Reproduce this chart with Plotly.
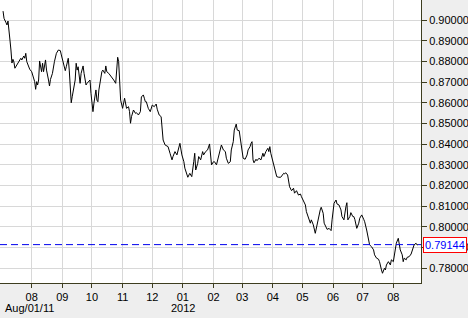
import plotly.graph_objects as go

dates = [
"2011-07-03","2011-07-04","2011-07-06","2011-07-07","2011-07-08","2011-07-09","2011-07-10","2011-07-11","2011-07-12","2011-07-13",
"2011-07-14","2011-07-15","2011-07-17","2011-07-19","2011-07-21","2011-07-22","2011-07-24","2011-07-25","2011-07-26","2011-07-27",
"2011-07-29","2011-07-30","2011-08-01","2011-08-03","2011-08-04","2011-08-05","2011-08-06","2011-08-07","2011-08-08","2011-08-09",
"2011-08-10","2011-08-11","2011-08-12","2011-08-13","2011-08-15","2011-08-16","2011-08-18","2011-08-19","2011-08-20","2011-08-22",
"2011-08-24","2011-08-26","2011-08-28","2011-08-30","2011-08-31","2011-09-02","2011-09-04","2011-09-05","2011-09-07","2011-09-08",
"2011-09-09","2011-09-10","2011-09-11","2011-09-13","2011-09-14","2011-09-15","2011-09-16","2011-09-17","2011-09-19","2011-09-20",
"2011-09-22","2011-09-23","2011-09-25","2011-09-26","2011-09-28","2011-09-29","2011-09-30","2011-10-01","2011-10-02","2011-10-03",
"2011-10-04","2011-10-05","2011-10-06","2011-10-07","2011-10-08","2011-10-10","2011-10-11","2011-10-12","2011-10-14","2011-10-15",
"2011-10-16","2011-10-18","2011-10-21","2011-10-23","2011-10-25","2011-10-26","2011-10-27","2011-10-28","2011-10-29","2011-10-30",
"2011-11-01","2011-11-02","2011-11-03","2011-11-05","2011-11-07","2011-11-08","2011-11-09","2011-11-10","2011-11-12","2011-11-14",
"2011-11-15","2011-11-17","2011-11-19","2011-11-20","2011-11-22","2011-11-23","2011-11-24","2011-11-25","2011-11-27","2011-11-29",
"2011-11-30","2011-12-01","2011-12-03","2011-12-05","2011-12-06","2011-12-08","2011-12-10","2011-12-11","2011-12-12","2011-12-14",
"2011-12-16","2011-12-17","2011-12-19","2011-12-21","2011-12-22","2011-12-24","2011-12-26","2011-12-27","2011-12-29","2011-12-31",
"2012-01-02","2012-01-03","2012-01-05","2012-01-06","2012-01-08","2012-01-10","2012-01-12","2012-01-13","2012-01-14","2012-01-16",
"2012-01-17","2012-01-19","2012-01-21","2012-01-22","2012-01-24","2012-01-26","2012-01-28","2012-01-29","2012-01-30","2012-02-01",
"2012-02-02","2012-02-04","2012-02-06","2012-02-08","2012-02-09","2012-02-11","2012-02-13","2012-02-14","2012-02-16","2012-02-18",
"2012-02-19","2012-02-21","2012-02-22","2012-02-24","2012-02-25","2012-02-27","2012-02-28","2012-03-01","2012-03-02","2012-03-04",
"2012-03-06","2012-03-07","2012-03-09","2012-03-10","2012-03-11","2012-03-12","2012-03-13","2012-03-15","2012-03-16","2012-03-18",
"2012-03-20","2012-03-22","2012-03-23","2012-03-25","2012-03-27","2012-03-28","2012-03-29","2012-03-30","2012-04-01","2012-04-02",
"2012-04-04","2012-04-05","2012-04-07","2012-04-09","2012-04-10","2012-04-12","2012-04-13","2012-04-14","2012-04-16","2012-04-17",
"2012-04-18","2012-04-20","2012-04-22","2012-04-23","2012-04-25","2012-04-27","2012-04-29","2012-04-30","2012-05-02","2012-05-04",
"2012-05-05","2012-05-07","2012-05-09","2012-05-10","2012-05-12","2012-05-14","2012-05-15","2012-05-17","2012-05-19","2012-05-20",
"2012-05-22","2012-05-23","2012-05-25","2012-05-26","2012-05-28","2012-05-30","2012-05-31","2012-06-02","2012-06-04","2012-06-05",
"2012-06-07","2012-06-09","2012-06-10","2012-06-12","2012-06-14","2012-06-15","2012-06-16","2012-06-18","2012-06-19","2012-06-21",
"2012-06-22","2012-06-23","2012-06-25","2012-06-27","2012-06-28","2012-06-30","2012-07-02","2012-07-03","2012-07-05","2012-07-07",
"2012-07-08","2012-07-10","2012-07-12","2012-07-13","2012-07-15","2012-07-17","2012-07-18","2012-07-20","2012-07-21","2012-07-23",
"2012-07-24","2012-07-25","2012-07-27","2012-07-29","2012-07-30","2012-08-01","2012-08-02","2012-08-03","2012-08-04","2012-08-06",
"2012-08-07","2012-08-08","2012-08-10","2012-08-11","2012-08-12","2012-08-14","2012-08-15","2012-08-17","2012-08-19","2012-08-21",
"2012-08-22","2012-08-24","2012-08-25","2012-08-26",
]

values = [
0.9043,0.9008,0.8987,0.8976,0.8995,0.8961,0.8903,0.8855,0.8792,0.8810,
0.8797,0.8767,0.8783,0.8799,0.8815,0.8807,0.8826,0.8815,0.8839,0.8799,
0.8767,0.8762,0.8750,0.8718,0.8702,0.8665,0.8702,0.8686,0.8710,0.8802,
0.8767,0.8750,0.8791,0.8750,0.8807,0.8758,0.8710,0.8681,0.8713,0.8742,
0.8799,0.8839,0.8855,0.8852,0.8831,0.8791,0.8755,0.8774,0.8815,0.8758,
0.8678,0.8600,0.8629,0.8694,0.8710,0.8791,0.8758,0.8774,0.8694,0.8742,
0.8778,0.8742,0.8686,0.8694,0.8702,0.8710,0.8646,0.8581,0.8557,0.8598,
0.8622,0.8662,0.8613,0.8605,0.8662,0.8726,0.8750,0.8758,0.8742,0.8778,
0.8750,0.8742,0.8726,0.8710,0.8694,0.8750,0.8820,0.8799,0.8710,0.8613,
0.8573,0.8605,0.8622,0.8573,0.8581,0.8557,0.8501,0.8533,0.8565,0.8549,
0.8552,0.8541,0.8557,0.8628,0.8638,0.8622,0.8605,0.8605,0.8573,0.8557,
0.8581,0.8589,0.8581,0.8594,0.8569,0.8541,0.8533,0.8477,0.8420,0.8396,
0.8388,0.8388,0.8356,0.8324,0.8340,0.8364,0.8348,0.8372,0.8404,0.8348,
0.8315,0.8284,0.8251,0.8240,0.8259,0.8243,0.8315,0.8356,0.8275,0.8307,
0.8340,0.8324,0.8364,0.8348,0.8364,0.8372,0.8401,0.8356,0.8300,0.8315,
0.8315,0.8300,0.8340,0.8372,0.8396,0.8372,0.8364,0.8332,0.8307,0.8315,
0.8372,0.8412,0.8468,0.8497,0.8468,0.8465,0.8436,0.8372,0.8332,0.8327,
0.8348,0.8372,0.8388,0.8404,0.8412,0.8324,0.8310,0.8327,0.8320,0.8332,
0.8324,0.8356,0.8340,0.8364,0.8380,0.8364,0.8388,0.8356,0.8315,0.8307,
0.8259,0.8243,0.8240,0.8240,0.8246,0.8259,0.8256,0.8262,0.8251,0.8211,
0.8194,0.8175,0.8187,0.8163,0.8175,0.8154,0.8159,0.8146,0.8122,0.8106,
0.8074,0.8042,0.8018,0.8034,0.8010,0.7969,0.7993,0.8034,0.8082,0.8095,
0.8066,0.8018,0.7998,0.7988,0.7993,0.7982,0.8034,0.8114,0.8130,0.8111,
0.8106,0.8082,0.8050,0.8034,0.8098,0.8117,0.8034,0.8050,0.8069,0.8050,
0.8050,0.8037,0.7993,0.8018,0.8042,0.8058,0.8037,0.8025,0.7985,0.7937,
0.7913,0.7904,0.7889,0.7865,0.7849,0.7844,0.7832,0.7792,0.7776,0.7800,
0.7792,0.7816,0.7832,0.7816,0.7841,0.7832,0.7865,0.7885,0.7921,0.7945,
0.7921,0.7889,0.7865,0.7832,0.7849,0.7841,0.7853,0.7856,0.7869,0.7893,
0.7913,0.7921,0.7913,0.79144,
]

last_value = 0.79144
last_label = "0.79144"

month_ticks = ["2011-08-01","2011-09-01","2011-10-01","2011-11-01","2011-12-01",
               "2012-01-01","2012-02-01","2012-03-01","2012-04-01","2012-05-01",
               "2012-06-01","2012-07-01","2012-08-01"]
month_labels = ["08","09","10","11","12","01","02","03","04","05","06","07","08"]
y_ticks = [0.78,0.79,0.80,0.81,0.82,0.83,0.84,0.85,0.86,0.87,0.88,0.89,0.90]
y_labels = ["%.5f" % v for v in y_ticks]

axis_col = "#3d3d1f"
grid_col = "#d8d8d8"
font = dict(family="Liberation Sans, Arial, sans-serif", size=11, color="#000000")

fig = go.Figure()
fig.add_trace(go.Scatter(x=dates, y=values, mode="lines",
                         line=dict(color="#000000", width=1), hoverinfo="skip"))

fig.add_shape(type="line", xref="paper", x0=0, x1=1, yref="y", y0=last_value, y1=last_value,
              line=dict(color="#0000ee", width=1, dash="7px,4px"))

fig.add_annotation(xref="paper", x=1, xanchor="left", xshift=2, yref="y", y=last_value,
                   yanchor="middle", text=last_label, showarrow=False,
                   font=dict(family=font["family"], size=11, color="#0000ff"),
                   bgcolor="#ffffff", bordercolor="#ff0000", borderwidth=1, borderpad=1)

fig.add_annotation(xref="x", x="2011-08-01", xanchor="center", xshift=-2,
                   yref="paper", y=0, yanchor="middle", yshift=-25,
                   text="Aug/01/11", showarrow=False, font=font)
fig.add_annotation(xref="x", x="2012-01-01", xanchor="center",
                   yref="paper", y=0, yanchor="middle", yshift=-25,
                   text="2012", showarrow=False, font=font)

fig.update_layout(
    width=468, height=318,
    margin=dict(l=0, r=47, t=0, b=35),
    paper_bgcolor="#eeeeee", plot_bgcolor="#ffffff",
    showlegend=False, font=font,
    xaxis=dict(type="date", range=["2011-06-29 22:00", "2012-08-29"],
               tickmode="array", tickvals=month_ticks, ticktext=month_labels,
               showgrid=True, gridcolor=grid_col, gridwidth=1,
               ticks="outside", ticklen=4, tickcolor=axis_col,
               showline=True, linecolor=axis_col, linewidth=1, mirror=True,
               zeroline=False, fixedrange=True),
    yaxis=dict(side="right", range=[0.77289, 0.90967],
               tickmode="array", tickvals=y_ticks, ticktext=y_labels,
               showgrid=True, gridcolor=grid_col, gridwidth=1,
               ticks="outside", ticklen=5, tickcolor=axis_col,
               showline=True, linecolor=axis_col, linewidth=1,
               zeroline=False, fixedrange=True),
)

fig.write_html("out.html")
